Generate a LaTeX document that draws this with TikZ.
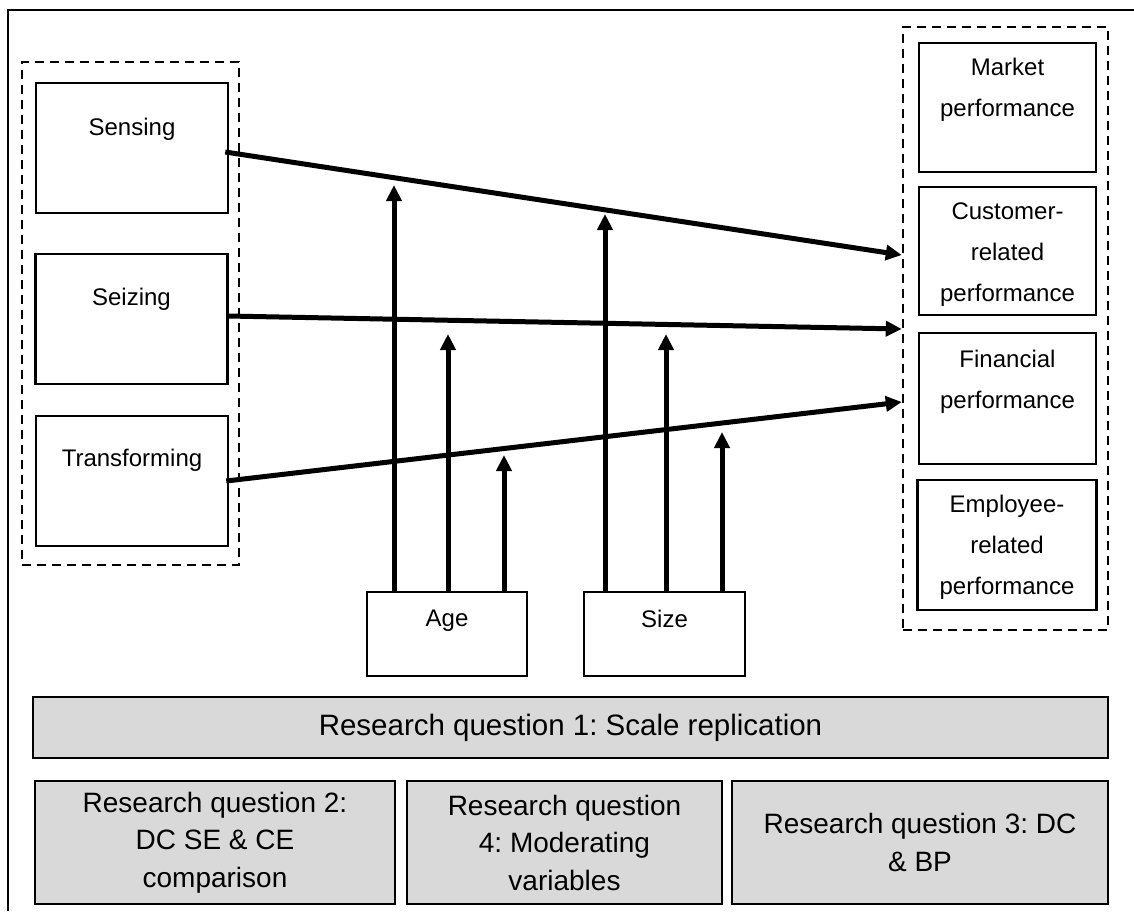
\documentclass[tikz,border=0pt]{standalone}
\usepackage{fontspec}
\setmainfont{Liberation Sans}
\usetikzlibrary{arrows.meta}
\definecolor{rqgray}{RGB}{217,217,217}
\frenchspacing
\begin{document}
\begin{tikzpicture}[x=1pt,y=-1pt,line join=miter,>={Triangle[width=15pt,length=16pt]}]
	\tikzset{every node/.style={inner sep=0pt},
		box/.style={draw,line width=2.5pt,minimum width=192pt,minimum height=130pt},
		pbox/.style={draw,line width=2.5pt,minimum width=177pt,minimum height=129pt},
		mbox/.style={draw,line width=2.5pt,minimum width=160pt,minimum height=84pt},
		grp/.style={draw,line width=2.5pt,dash pattern=on 9pt off 6pt},
		rq/.style={draw,line width=2.5pt,fill=rqgray,align=center,minimum height=123pt,
			font=\fontsize{28}{37.5}\selectfont},
		txt/.style={anchor=north,align=center,font=\fontsize{24}{41}\selectfont},
		arr/.style={->,line width=5pt}}
	\useasboundingbox (0,0) rectangle (1134,911);
	\draw[line width=2.5pt] (8,911) -- (8,10) -- (1134,10);
	% capabilities
	\node[grp,minimum width=217pt,minimum height=503pt] (cap) at (130.5,313.5) {};
	\node[box] (sens) at (132,148) {};
	\node[box] (seiz) at (131.5,319) {};
	\node[box] (trans) at (132,481) {};
	\node[txt] (sensT) at ([yshift=-36pt]sens.north) {Sensing};
	\node[txt] (seizT) at ([yshift=-35pt]seiz.north) {Seizing};
	\node[txt] (transT) at ([yshift=-34pt]trans.north) {Transforming};
	% performance
	\node[grp,minimum width=205pt,minimum height=603pt] (perf) at (1005.5,328.5) {};
	\node[pbox] (mkt) at (1007.5,107.5) {};
	\node[pbox,minimum height=128pt] (cust) at (1007.5,251) {};
	\node[pbox,minimum height=131pt] (fin) at (1007.5,398.5) {};
	\node[pbox,minimum width=179pt,minimum height=130pt] (emp) at (1007,545) {};
	\node[txt] (mktT) at ([yshift=-16pt]mkt.north) {Market\\performance};
	\node[txt] (custT) at ([yshift=-17pt]cust.north) {Customer-\\related\\performance};
	\node[txt] (finT) at ([yshift=-18pt]fin.north) {Financial\\performance};
	\node[txt] (empT) at ([yshift=-16pt]emp.north) {Employee-\\related\\performance};
	% moderators
	\node[mbox] (age) at (447,634) {};
	\node[mbox,minimum width=161pt] (size) at (664.5,634) {};
	\node[txt] (ageT) at ([yshift=-19pt]age.north) {Age};
	\node[txt] (sizeT) at ([yshift=-19pt]size.north) {Size};
	% research questions
	\node[rq,minimum width=1075pt,minimum height=61pt,font=\fontsize{29.5}{37.5}\selectfont] (rq1) at (570.5,727.5) {Research question 1: Scale replication};
	\node[rq,minimum width=360pt] (rq2) at (215,842.5) {Research question 2:\\DC SE \& CE\\comparison};
	\node[rq,minimum width=315pt] (rq4) at (564.5,842.5) {Research question\\4: Moderating\\variables};
	\node[rq,minimum width=376pt] (rq3) at (920,842.5) {Research question 3: DC\\\& BP};
	% arrows
	\coordinate (e1) at (903,255);
	\coordinate (e2) at (903,329);
	\coordinate (e3) at (903,402);
	\draw[arr] ([xshift=-4pt,yshift=-4pt]sens.east) -- (perf.west |- e1);
	\draw[arr] ([xshift=-1pt,yshift=3pt]seiz.east) -- (perf.west |- e2);
	\draw[arr] ([xshift=-3pt]trans.east) -- (perf.west |- e3);
	\coordinate (a1) at (394,185); \coordinate (a2) at (448,334); \coordinate (a3) at (504,455);
	\coordinate (s1) at (605,214); \coordinate (s2) at (666,334); \coordinate (s3) at (722,432);
	\foreach \t in {a1,a2,a3} \draw[arr] (age.north -| \t) -- (\t);
	\foreach \t in {s1,s2,s3} \draw[arr] (size.north -| \t) -- (\t);
\end{tikzpicture}
\end{document}
